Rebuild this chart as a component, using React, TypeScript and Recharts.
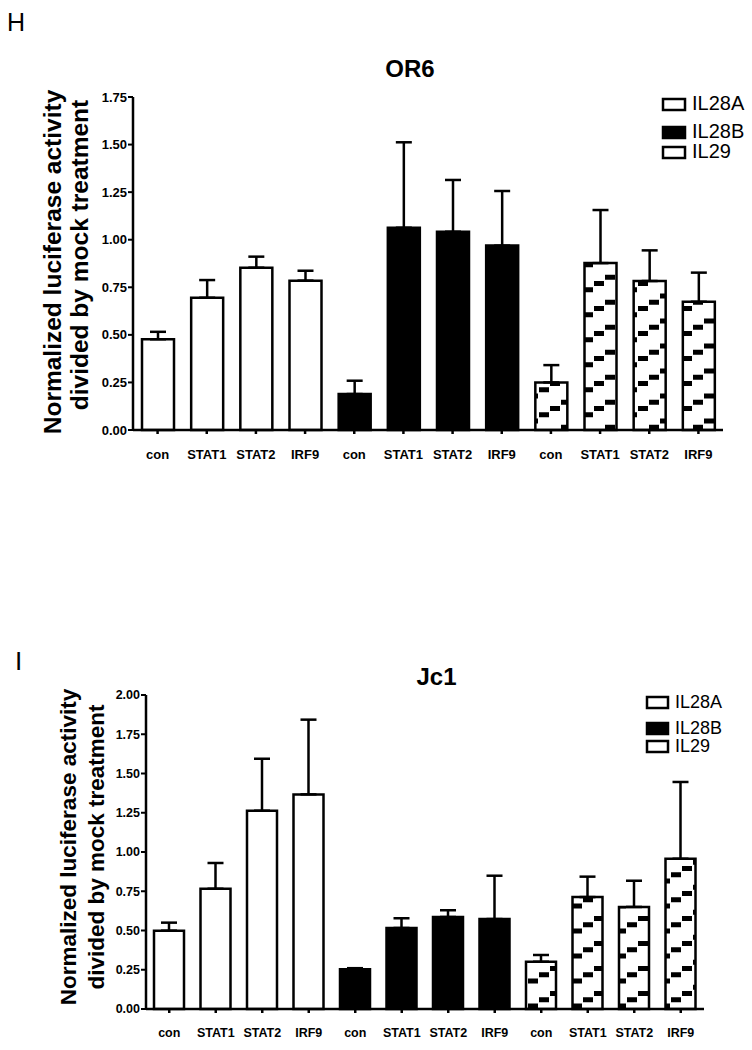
import React from 'react';
import { BarChart, Bar, XAxis, YAxis, ErrorBar, Cell } from 'recharts';

const categories = ['con', 'STAT1', 'STAT2', 'IRF9', 'con', 'STAT1', 'STAT2', 'IRF9', 'con', 'STAT1', 'STAT2', 'IRF9'];
const groupOf = [0, 0, 0, 0, 1, 1, 1, 1, 2, 2, 2, 2];
const groups = ['IL28A', 'IL28B', 'IL29'];
const groupFills = ['#ffffff', '#000000', 'url(#il29pat)'];

const or6Mean = [0.477, 0.695, 0.853, 0.785, 0.189, 1.063, 1.042, 0.969, 0.25, 0.877, 0.783, 0.674];
const or6Err = [0.039, 0.093, 0.058, 0.052, 0.07, 0.449, 0.272, 0.287, 0.091, 0.279, 0.161, 0.153];
const or6Ticks = [0, 0.25, 0.5, 0.75, 1.0, 1.25, 1.5, 1.75];

const jc1Mean = [0.499, 0.766, 1.263, 1.367, 0.253, 0.516, 0.586, 0.573, 0.301, 0.713, 0.65, 0.957];
const jc1Err = [0.051, 0.164, 0.331, 0.476, 0.007, 0.062, 0.043, 0.276, 0.043, 0.13, 0.167, 0.489];
const jc1Ticks = [0, 0.25, 0.5, 0.75, 1.0, 1.25, 1.5, 1.75, 2.0];

const FONT = '"Liberation Sans", Arial, Helvetica, sans-serif';

const buildRows = (mean: number[], err: number[]) =>
  categories.map((c, i) => ({ idx: i, cat: c, value: mean[i], err: [0, err[i]] }));

const or6Rows = buildRows(or6Mean, or6Err);
const jc1Rows = buildRows(jc1Mean, jc1Err);

type PanelProps = {
  rows: any[];
  ticks: number[];
  height: number;
  top: number;
  margin: any;
  yWidth: number;
  barSize: number;
  tickFont: number;
  xTickMargin: number;
};

const Panel = ({ rows, ticks, height, top, margin, yWidth, barSize, tickFont, xTickMargin }: PanelProps) => (
  <div style={{ position: 'absolute', left: 0, top, width: 752, height }}>
    <BarChart width={752} height={height} data={rows} margin={margin} barSize={barSize}>
      <XAxis
        dataKey="idx"
        type="category"
        interval={0}
        height={30}
        tickFormatter={(v: any) => categories[v]}
        axisLine={{ stroke: '#000', strokeWidth: 2.5 }}
        tickLine={{ stroke: '#000', strokeWidth: 2.5 }}
        tickSize={4}
        tickMargin={xTickMargin}
        tick={{ fill: '#000', fontSize: tickFont, fontWeight: 700, fontFamily: FONT }}
      />
      <YAxis
        type="number"
        width={yWidth}
        domain={[ticks[0], ticks[ticks.length - 1]]}
        ticks={ticks}
        interval={0}
        tickFormatter={(v: number) => v.toFixed(2)}
        axisLine={{ stroke: '#000', strokeWidth: 2.5 }}
        tickLine={{ stroke: '#000', strokeWidth: 2 }}
        tickSize={5}
        tickMargin={1}
        tick={{ fill: '#000', fontSize: tickFont, fontWeight: 700, fontFamily: FONT }}
      />
      <Bar dataKey="value" stroke="#000" strokeWidth={2.5} isAnimationActive={false}>
        {rows.map((r, i) => (
          <Cell key={i} fill={groupFills[groupOf[i]]} stroke="#000" strokeWidth={2.5} />
        ))}
        <ErrorBar dataKey="err" direction="y" width={8} stroke="#000" strokeWidth={2.5} isAnimationActive={false} />
      </Bar>
    </BarChart>
  </div>
);

const Legend = ({ x, tx, rowsY, swH, font }: { x: number; tx: number; rowsY: number[]; swH: number; font: number }) => (
  <g>
    {groups.map((g, i) => (
      <g key={g}>
        <rect
          x={x}
          y={rowsY[i] - swH}
          width={tx - x - 7}
          height={swH}
          fill={i === 1 ? '#000' : '#fff'}
          stroke="#000"
          strokeWidth={2.5}
        />
        <text x={tx} y={rowsY[i]} fontSize={font} fontFamily={FONT} fill="#000">
          {g}
        </text>
      </g>
    ))}
  </g>
);

export default function App() {
  return (
    <div style={{ position: 'absolute', left: 0, top: 0, width: 752, height: 1050, background: '#fff', overflow: 'hidden' }}>
      <svg width={0} height={0} style={{ position: 'absolute' }}>
        <defs>
          <pattern id="il29pat" patternUnits="userSpaceOnUse" width={44} height={25} x={0} y={0}>
            <rect x={0} y={0} width={44} height={25} fill="#fff" />
            <rect x={0} y={18.5} width={10} height={5} fill="#000" />
            <rect x={11} y={12.25} width={10} height={5} fill="#000" />
            <rect x={22} y={6} width={10} height={5} fill="#000" />
            <rect x={33} y={-0.25} width={10} height={5} fill="#000" />
            <rect x={33} y={24.75} width={10} height={5} fill="#000" />
          </pattern>
        </defs>
      </svg>

      <Panel
        rows={or6Rows}
        ticks={or6Ticks}
        height={480}
        top={0}
        margin={{ top: 97, right: 29, left: 0, bottom: 20 }}
        yWidth={133}
        barSize={32}
        tickFont={13}
        xTickMargin={16}
      />
      <Panel
        rows={jc1Rows}
        ticks={jc1Ticks}
        height={490}
        top={560}
        margin={{ top: 135, right: 48, left: 0, bottom: 11 }}
        yWidth={146}
        barSize={30}
        tickFont={12.5}
        xTickMargin={15}
      />

      <svg width={752} height={1050} style={{ position: 'absolute', left: 0, top: 0, pointerEvents: 'none' }}>
        <text x={7} y={31} fontSize={25} fontFamily={FONT} fill="#000">H</text>
        <text x={410} y={77} fontSize={24} fontWeight={700} fontFamily={FONT} fill="#000" textAnchor="middle">OR6</text>
        <text x={61} y={262} transform="rotate(-90, 61, 262)" fontSize={24.5} fontWeight={700} fontFamily={FONT} fill="#000" textAnchor="middle">
          Normalized luciferase activity
        </text>
        <text x={88} y={255} transform="rotate(-90, 88, 255)" fontSize={24.5} fontWeight={700} fontFamily={FONT} fill="#000" textAnchor="middle">
          divided by mock treatment
        </text>
        <Legend x={663} tx={692} rowsY={[110, 138, 158]} swH={11} font={20} />

        <text x={15} y={670} fontSize={26} fontFamily={FONT} fill="#000">I</text>
        <text x={436.5} y={685} fontSize={24} fontWeight={700} fontFamily={FONT} fill="#000" textAnchor="middle">Jc1</text>
        <text x={76} y={847} transform="rotate(-90, 76, 847)" fontSize={22.5} fontWeight={700} fontFamily={FONT} fill="#000" textAnchor="middle">
          Normalized luciferase activity
        </text>
        <text x={104} y={847} transform="rotate(-90, 104, 847)" fontSize={22.5} fontWeight={700} fontFamily={FONT} fill="#000" textAnchor="middle">
          divided by mock treatment
        </text>
        <Legend x={647} tx={675} rowsY={[708, 734, 752]} swH={11} font={18} />
      </svg>
    </div>
  );
}
